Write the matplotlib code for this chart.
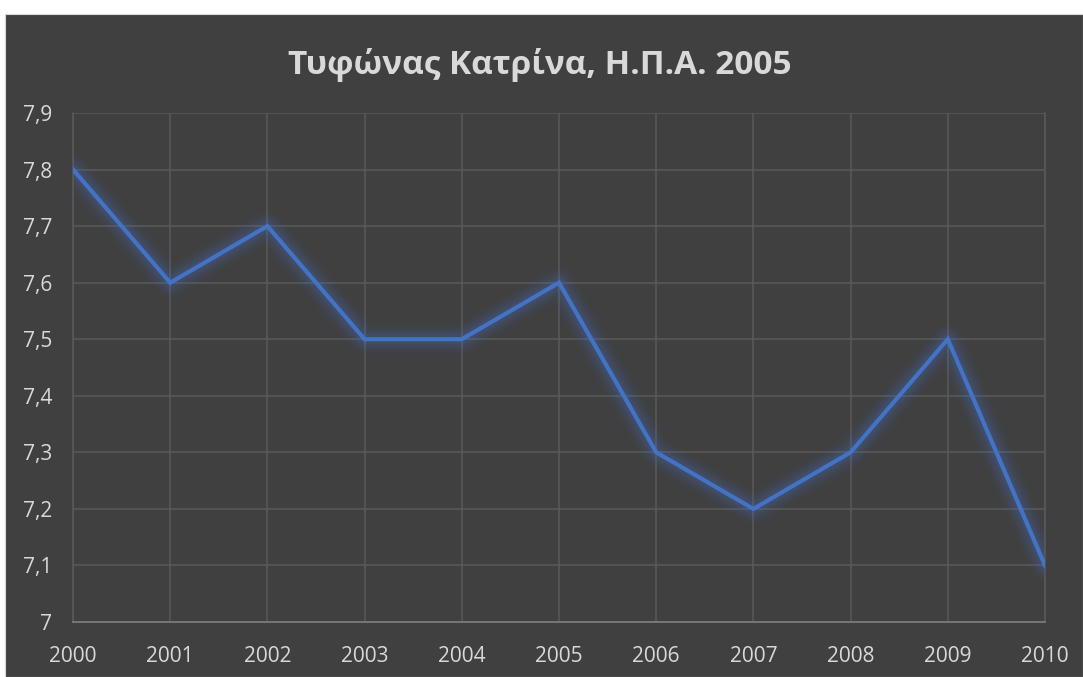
import matplotlib
matplotlib.use("Agg")
import matplotlib.pyplot as plt
from matplotlib.patches import Rectangle
from matplotlib.ticker import FuncFormatter

years = [2000, 2001, 2002, 2003, 2004, 2005, 2006, 2007, 2008, 2009, 2010]
values = [7.8, 7.6, 7.7, 7.5, 7.5, 7.6, 7.3, 7.2, 7.3, 7.5, 7.1]
yticks = [7.0, 7.1, 7.2, 7.3, 7.4, 7.5, 7.6, 7.7, 7.8, 7.9]
title = "Τυφώνας Κατρίνα, Η.Π.Α. 2005"

plt.rcParams['font.family'] = ['Open Sans', 'DejaVu Sans']

W, H = 1083, 677
fig = plt.figure(figsize=(W / 100, H / 100), dpi=100)
fig.patch.set_facecolor('white')
bg = Rectangle((5 / W, 0), 1 - 5 / W, (H - 14) / H, transform=fig.transFigure,
               facecolor='#404040', edgecolor='#d9d9d9', linewidth=0.8, zorder=-10)
fig.patches.append(bg)

ax = fig.add_axes([73 / W, (H - 622) / H, (1045 - 73) / W, (622 - 113) / H])
ax.patch.set_alpha(0)

# glow
for lw, a in [(22, 0.04), (18, 0.05), (14, 0.07), (10, 0.09), (7, 0.12)]:
    ax.plot(years, values, color='#4472C4', linewidth=lw, alpha=a, solid_joinstyle='round',
            solid_capstyle='round', zorder=2)
ax.plot(years, values, color='#4472C4', linewidth=3, solid_joinstyle='miter', zorder=3)

ax.set_xlim(2000, 2010)
ax.set_ylim(7.0, 7.9)
ax.set_xticks(years)
ax.set_yticks(yticks)
ax.yaxis.set_major_formatter(FuncFormatter(lambda v, p: ('%g' % round(v, 1)).replace('.', ',')))
ax.grid(True, color='#5a5a5a', linewidth=1.1)
ax.set_axisbelow(True)
ax.spines['top'].set_visible(False)
for side in ['right', 'left']:
    ax.spines[side].set_color('#5a5a5a')
    ax.spines[side].set_linewidth(1.1)
ax.spines['bottom'].set_color('#7a7a7a')
ax.spines['bottom'].set_linewidth(1.3)
ax.tick_params(axis='both', length=0, colors='#d9d9d9', labelsize=15)
ax.tick_params(axis='x', pad=17)
ax.tick_params(axis='y', pad=15)

fig.text(540 / W, (H - 65) / H, title, ha='center', va='center', fontsize=24,
         fontweight='bold', color='#d9d9d9')

fig.savefig('out.png', dpi=100, facecolor=fig.get_facecolor())
